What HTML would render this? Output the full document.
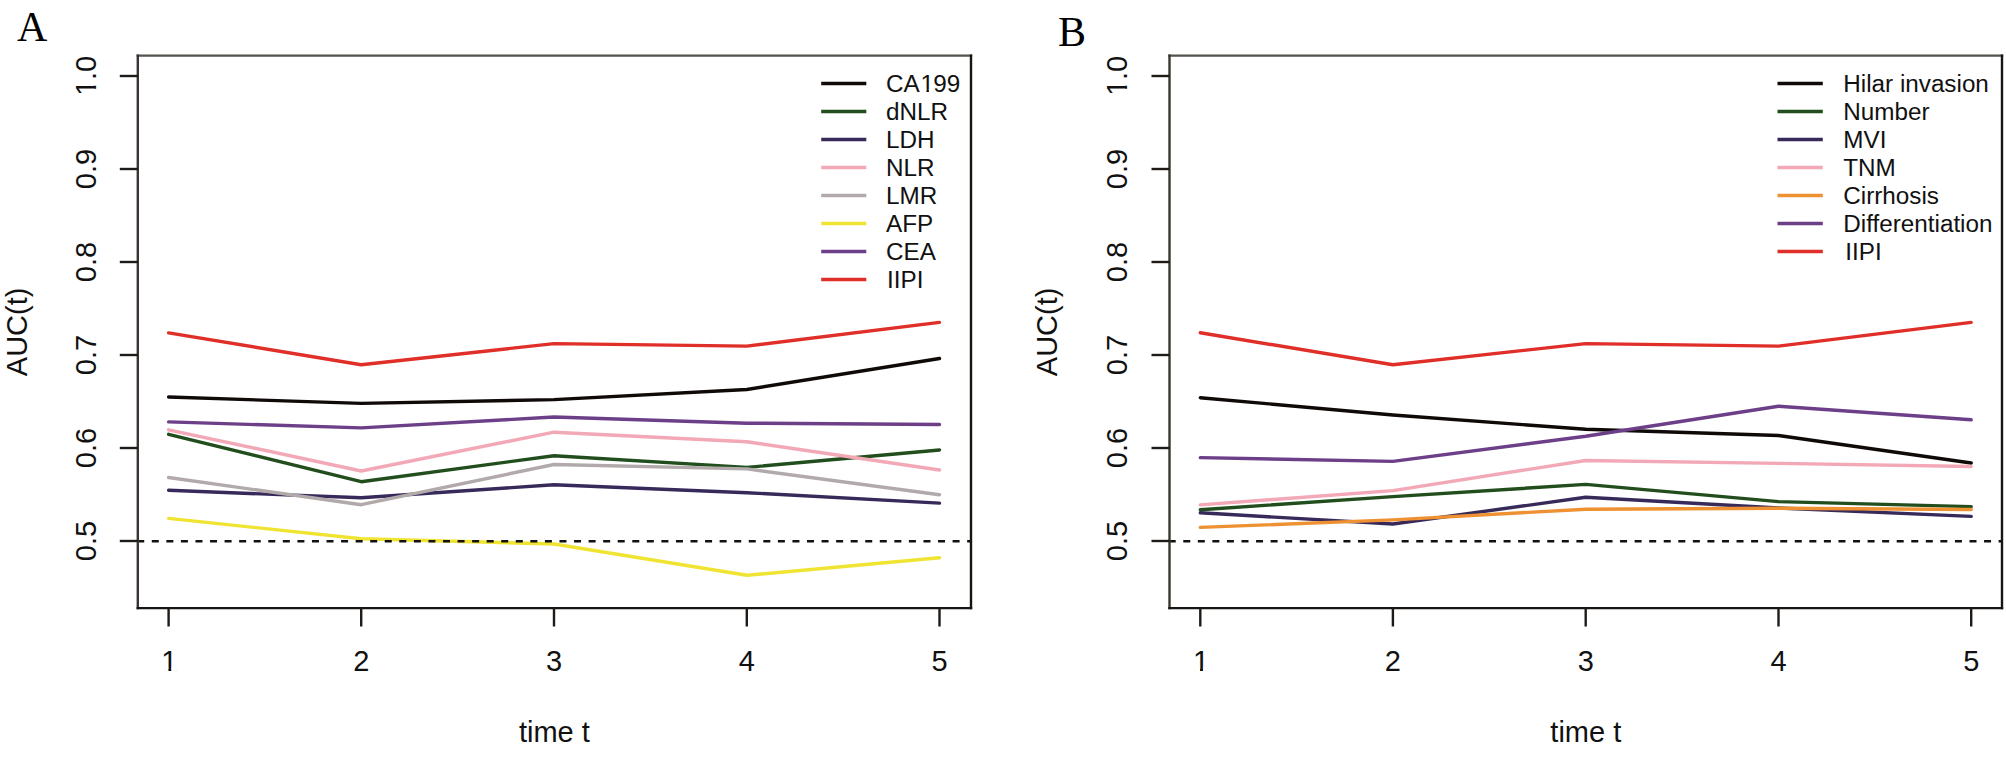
<!DOCTYPE html>
<html><head><meta charset="utf-8"><title>AUC(t) time-dependent ROC</title>
<style>html,body{margin:0;padding:0;background:#fff;}body{width:2006px;height:764px;overflow:hidden;}svg{display:block;}</style>
</head><body>
<svg width="2006" height="764" viewBox="0 0 2006 764">
<rect width="2006" height="764" fill="#fff"/>
<defs><clipPath id="nf0" clipPathUnits="userSpaceOnUse"><rect x="-600.00" y="-600.00" width="1800.00" height="596.83"/><rect x="-12.66" y="-3.17" width="2.86" height="32.17"/><rect x="-600.00" y="-600.00" width="581.70" height="1200.00"/><rect x="-4.39" y="-600.00" width="1200.00" height="1200.00"/></clipPath><clipPath id="nf1" clipPathUnits="userSpaceOnUse"><rect x="-600.00" y="-600.00" width="1800.00" height="596.83"/><rect x="-0.92" y="-3.17" width="2.86" height="32.17"/><rect x="-600.00" y="-600.00" width="593.44" height="1200.00"/><rect x="7.35" y="-600.00" width="1200.00" height="1200.00"/></clipPath><clipPath id="nf2" clipPathUnits="userSpaceOnUse"><rect x="-600.00" y="-600.00" width="1800.00" height="597.19"/><rect x="40.44" y="-2.81" width="2.44" height="31.81"/><rect x="-600.00" y="-600.00" width="635.63" height="1200.00"/><rect x="47.49" y="-600.00" width="1200.00" height="1200.00"/></clipPath><clipPath id="nf3" clipPathUnits="userSpaceOnUse"><rect x="-600.00" y="-600.00" width="1800.00" height="596.83"/><rect x="-12.66" y="-3.17" width="2.86" height="32.17"/><rect x="-600.00" y="-600.00" width="581.70" height="1200.00"/><rect x="-4.39" y="-600.00" width="1200.00" height="1200.00"/></clipPath><clipPath id="nf4" clipPathUnits="userSpaceOnUse"><rect x="-600.00" y="-600.00" width="1800.00" height="596.83"/><rect x="-0.92" y="-3.17" width="2.86" height="32.17"/><rect x="-600.00" y="-600.00" width="593.44" height="1200.00"/><rect x="7.35" y="-600.00" width="1200.00" height="1200.00"/></clipPath></defs>
<text x="17" y="41" font-family="'Liberation Serif', 'Times New Roman', serif" font-size="42" fill="#000">A</text>
<g fill="none" stroke-width="3.4" stroke-linejoin="round" stroke-linecap="round">
<polyline points="168.6,397.0 361.2,403.4 554.0,399.6 746.8,389.5 939.5,358.5" stroke="#0f0a08"/>
<polyline points="168.6,434.3 361.2,481.7 554.0,455.7 746.8,467.4 939.5,450.0" stroke="#224e1d"/>
<polyline points="168.6,490.3 361.2,497.8 554.0,484.8 746.8,492.7 939.5,503.1" stroke="#372a5a"/>
<polyline points="168.6,429.8 361.2,471.0 554.0,432.2 746.8,441.8 939.5,470.0" stroke="#f2a8b6"/>
<polyline points="168.6,477.5 361.2,504.7 554.0,464.5 746.8,468.9 939.5,494.7" stroke="#b2aaaa"/>
<polyline points="168.6,518.4 361.2,538.7 554.0,544.0 746.8,575.3 939.5,557.8" stroke="#f0e432"/>
<polyline points="168.6,421.9 361.2,427.9 554.0,417.0 746.8,423.2 939.5,424.5" stroke="#6c3f88"/>
<polyline points="168.6,332.9 361.2,364.7 554.0,343.6 746.8,346.1 939.5,322.4" stroke="#e02e28"/>
</g>
<line x1="137.8" y1="541.2" x2="971.0" y2="541.2" stroke="#111" stroke-width="2.5" stroke-dasharray="7.0 7.56" stroke-dashoffset="0.56"/>
<g stroke-linecap="square" stroke-width="2.4">
<line x1="137.8" y1="55.6" x2="971.0" y2="55.6" stroke="#55514c"/>
<line x1="137.8" y1="55.6" x2="137.8" y2="608.1" stroke="#3a3531"/>
<line x1="971.0" y1="55.6" x2="971.0" y2="608.1" stroke="#181412"/>
<line x1="137.8" y1="608.1" x2="971.0" y2="608.1" stroke="#181412"/>
</g>
<g stroke="#1e1a17" stroke-width="2.4">
<line x1="119.8" y1="541.0" x2="137.8" y2="541.0"/>
<line x1="119.8" y1="448.0" x2="137.8" y2="448.0"/>
<line x1="119.8" y1="355.0" x2="137.8" y2="355.0"/>
<line x1="119.8" y1="262.0" x2="137.8" y2="262.0"/>
<line x1="119.8" y1="169.0" x2="137.8" y2="169.0"/>
<line x1="119.8" y1="76.0" x2="137.8" y2="76.0"/>
<line x1="168.6" y1="608.1" x2="168.6" y2="626.5"/>
<line x1="361.2" y1="608.1" x2="361.2" y2="626.5"/>
<line x1="554.0" y1="608.1" x2="554.0" y2="626.5"/>
<line x1="746.8" y1="608.1" x2="746.8" y2="626.5"/>
<line x1="939.5" y1="608.1" x2="939.5" y2="626.5"/>
</g>
<g font-family="'Liberation Sans', Arial, Helvetica, sans-serif" font-size="29" fill="#111" text-anchor="middle">
<text transform="translate(95.8,541.0) rotate(-90)">0.5</text>
<text transform="translate(95.8,448.0) rotate(-90)">0.6</text>
<text transform="translate(95.8,355.0) rotate(-90)">0.7</text>
<text transform="translate(95.8,262.0) rotate(-90)">0.8</text>
<text transform="translate(95.8,169.0) rotate(-90)">0.9</text>
<g transform="translate(95.8,76.0) rotate(-90)"><text x="-20.16" y="0" text-anchor="start" clip-path="url(#nf0)"><tspan dx="0.35">1</tspan><tspan dx="-0.35">.0</tspan></text></g>
<g transform="translate(169.3,671)"><text x="-8.06" y="0" text-anchor="start" clip-path="url(#nf1)">1</text></g>
<text x="361.2" y="671">2</text>
<text x="554.0" y="671">3</text>
<text x="746.8" y="671">4</text>
<text x="939.5" y="671">5</text>
<text x="554.4" y="741.5">time t</text>
<text transform="translate(26.8,331.9) rotate(-90)">AUC(t)</text>
</g>
<g font-family="'Liberation Sans', Arial, Helvetica, sans-serif" font-size="24.25" fill="#111">
<line x1="821.2" y1="83.5" x2="866.3" y2="83.5" stroke="#0f0a08" stroke-width="3.4"/>
<g transform="translate(886,91.9)"><text x="0" y="0" clip-path="url(#nf2)">CA<tspan dx="0.8">1</tspan><tspan dx="-0.8">99</tspan></text></g>
<line x1="821.2" y1="111.5" x2="866.3" y2="111.5" stroke="#224e1d" stroke-width="3.4"/>
<text x="886.0" y="119.9">dNLR</text>
<line x1="821.2" y1="139.5" x2="866.3" y2="139.5" stroke="#372a5a" stroke-width="3.4"/>
<text x="886.0" y="147.9">LDH</text>
<line x1="821.2" y1="167.5" x2="866.3" y2="167.5" stroke="#f2a8b6" stroke-width="3.4"/>
<text x="886.0" y="175.9">NLR</text>
<line x1="821.2" y1="195.5" x2="866.3" y2="195.5" stroke="#b2aaaa" stroke-width="3.4"/>
<text x="886.0" y="203.9">LMR</text>
<line x1="821.2" y1="223.5" x2="866.3" y2="223.5" stroke="#f0e432" stroke-width="3.4"/>
<text x="886.0" y="231.9">AFP</text>
<line x1="821.2" y1="251.5" x2="866.3" y2="251.5" stroke="#6c3f88" stroke-width="3.4"/>
<text x="886.0" y="259.9">CEA</text>
<line x1="821.2" y1="279.5" x2="866.3" y2="279.5" stroke="#e02e28" stroke-width="3.4"/>
<text x="887.0" y="287.9">IIPI</text>
</g>
<text x="1058" y="45.7" font-family="'Liberation Serif', 'Times New Roman', serif" font-size="42" fill="#000">B</text>
<g fill="none" stroke-width="3.4" stroke-linejoin="round" stroke-linecap="round">
<polyline points="1200.3,397.7 1392.9,415.0 1585.7,429.3 1778.5,435.5 1971.2,463.0" stroke="#0f0a08"/>
<polyline points="1200.3,509.8 1392.9,496.6 1585.7,484.4 1778.5,501.6 1971.2,506.6" stroke="#224e1d"/>
<polyline points="1200.3,512.8 1392.9,524.0 1585.7,497.3 1778.5,508.0 1971.2,516.4" stroke="#372a5a"/>
<polyline points="1200.3,504.9 1392.9,490.6 1585.7,460.5 1778.5,463.4 1971.2,466.5" stroke="#f2a8b6"/>
<polyline points="1200.3,527.4 1392.9,519.9 1585.7,509.2 1778.5,508.3 1971.2,509.5" stroke="#ee9132"/>
<polyline points="1200.3,457.6 1392.9,461.4 1585.7,436.2 1778.5,406.2 1971.2,419.8" stroke="#6c3f88"/>
<polyline points="1200.3,332.8 1392.9,364.7 1585.7,343.6 1778.5,346.1 1971.2,322.4" stroke="#e02e28"/>
</g>
<line x1="1169.5" y1="541.2" x2="2002.0" y2="541.2" stroke="#111" stroke-width="2.5" stroke-dasharray="7.0 7.56" stroke-dashoffset="0.8"/>
<g stroke-linecap="square" stroke-width="2.4">
<line x1="1169.5" y1="55.6" x2="2002.0" y2="55.6" stroke="#55514c"/>
<line x1="1169.5" y1="55.6" x2="1169.5" y2="608.1" stroke="#3a3531"/>
<line x1="2002.0" y1="55.6" x2="2002.0" y2="608.1" stroke="#181412"/>
<line x1="1169.5" y1="608.1" x2="2002.0" y2="608.1" stroke="#181412"/>
</g>
<g stroke="#1e1a17" stroke-width="2.4">
<line x1="1151.5" y1="541.0" x2="1169.5" y2="541.0"/>
<line x1="1151.5" y1="448.0" x2="1169.5" y2="448.0"/>
<line x1="1151.5" y1="355.0" x2="1169.5" y2="355.0"/>
<line x1="1151.5" y1="262.0" x2="1169.5" y2="262.0"/>
<line x1="1151.5" y1="169.0" x2="1169.5" y2="169.0"/>
<line x1="1151.5" y1="76.0" x2="1169.5" y2="76.0"/>
<line x1="1200.3" y1="608.1" x2="1200.3" y2="626.5"/>
<line x1="1392.9" y1="608.1" x2="1392.9" y2="626.5"/>
<line x1="1585.7" y1="608.1" x2="1585.7" y2="626.5"/>
<line x1="1778.5" y1="608.1" x2="1778.5" y2="626.5"/>
<line x1="1971.2" y1="608.1" x2="1971.2" y2="626.5"/>
</g>
<g font-family="'Liberation Sans', Arial, Helvetica, sans-serif" font-size="29" fill="#111" text-anchor="middle">
<text transform="translate(1127.0,541.0) rotate(-90)">0.5</text>
<text transform="translate(1127.0,448.0) rotate(-90)">0.6</text>
<text transform="translate(1127.0,355.0) rotate(-90)">0.7</text>
<text transform="translate(1127.0,262.0) rotate(-90)">0.8</text>
<text transform="translate(1127.0,169.0) rotate(-90)">0.9</text>
<g transform="translate(1127.0,76.0) rotate(-90)"><text x="-20.16" y="0" text-anchor="start" clip-path="url(#nf3)"><tspan dx="0.35">1</tspan><tspan dx="-0.35">.0</tspan></text></g>
<g transform="translate(1201.0,671)"><text x="-8.06" y="0" text-anchor="start" clip-path="url(#nf4)">1</text></g>
<text x="1392.9" y="671">2</text>
<text x="1585.7" y="671">3</text>
<text x="1778.5" y="671">4</text>
<text x="1971.2" y="671">5</text>
<text x="1585.8" y="741.5">time t</text>
<text transform="translate(1057.1,331.9) rotate(-90)">AUC(t)</text>
</g>
<g font-family="'Liberation Sans', Arial, Helvetica, sans-serif" font-size="24.25" fill="#111">
<line x1="1777.5" y1="83.5" x2="1822.8" y2="83.5" stroke="#0f0a08" stroke-width="3.4"/>
<text x="1843.3" y="91.9">Hilar invasion</text>
<line x1="1777.5" y1="111.5" x2="1822.8" y2="111.5" stroke="#224e1d" stroke-width="3.4"/>
<text x="1843.3" y="119.9">Number</text>
<line x1="1777.5" y1="139.5" x2="1822.8" y2="139.5" stroke="#372a5a" stroke-width="3.4"/>
<text x="1843.3" y="147.9">MVI</text>
<line x1="1777.5" y1="167.5" x2="1822.8" y2="167.5" stroke="#f2a8b6" stroke-width="3.4"/>
<text x="1843.3" y="175.9">TNM</text>
<line x1="1777.5" y1="195.5" x2="1822.8" y2="195.5" stroke="#ee9132" stroke-width="3.4"/>
<text x="1843.3" y="203.9">Cirrhosis</text>
<line x1="1777.5" y1="223.5" x2="1822.8" y2="223.5" stroke="#6c3f88" stroke-width="3.4"/>
<text x="1843.3" y="231.9">Differentiation</text>
<line x1="1777.5" y1="251.5" x2="1822.8" y2="251.5" stroke="#e02e28" stroke-width="3.4"/>
<text x="1845.3" y="259.9">IIPI</text>
</g>
</svg>
</body></html>
